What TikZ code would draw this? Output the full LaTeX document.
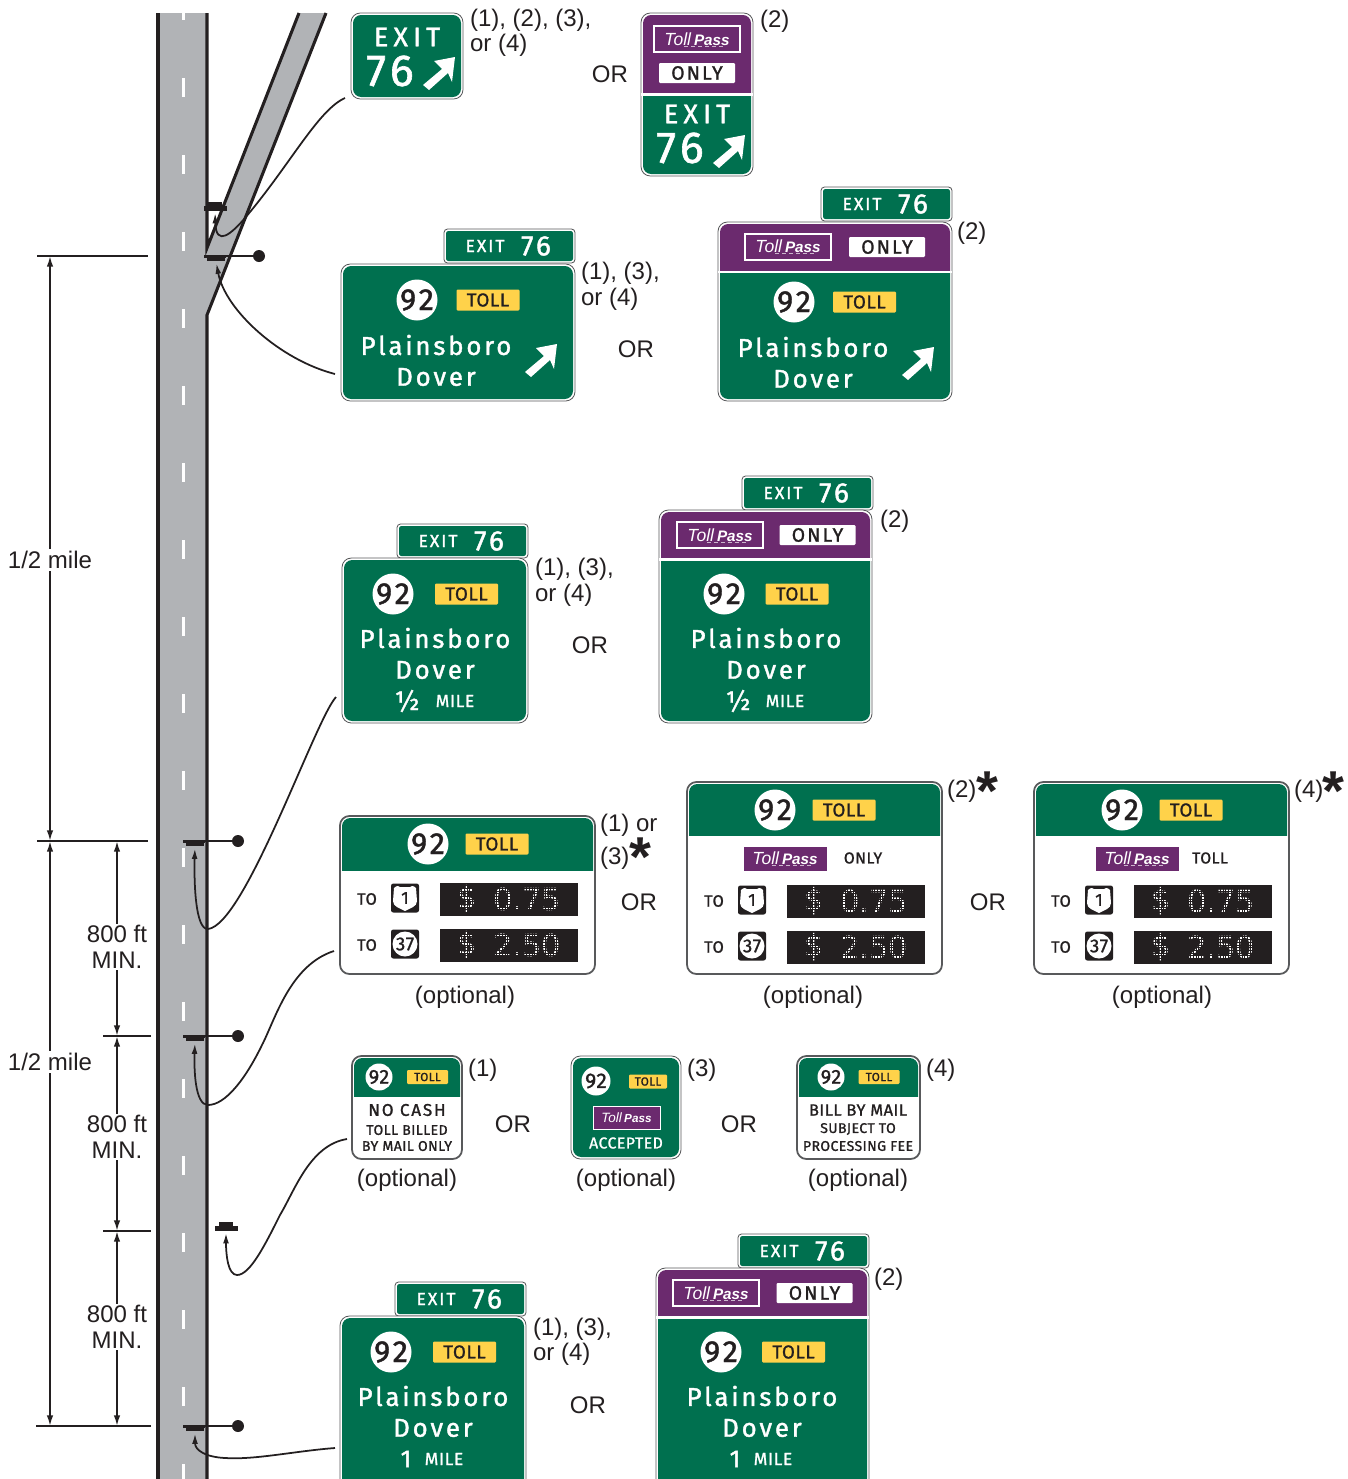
\documentclass[tikz,border=0pt]{standalone}
\usepackage{fontspec}
\usetikzlibrary{arrows.meta}
\setmainfont{Liberation Sans}
\newfontfamily\signfont[LetterSpace=11,BoldFont={Fira Sans},FakeBold=1.4]{Fira Sans}
\newfontfamily\signwide[LetterSpace=19,BoldFont={Fira Sans},FakeBold=1.4]{Fira Sans}
\newfontfamily\signtight[LetterSpace=3,BoldFont={Fira Sans},FakeBold=1.1]{Fira Sans}
\newfontfamily\dotfont{DejaVu Sans}
\newcommand{\fsz}[1]{\fontsize{#1}{#1}\selectfont}
\definecolor{signgreen}{HTML}{00704F}
\definecolor{signpurple}{HTML}{6B2A6E}
\definecolor{signyellow}{HTML}{FFD24A}
\definecolor{roadgrey}{HTML}{B1B3B6}
\definecolor{inkdark}{HTML}{231F20}
\definecolor{edgegrey}{HTML}{58595B}
\def\px{0.03cm}
\tikzset{
    signlabel/.style={inner sep=0pt,outer sep=0pt,anchor=center},
    note/.style={inner sep=0pt,outer sep=0pt,text=inkdark,font=\fontsize{20.5}{21.5}\selectfont,align=left,anchor=west,yshift=-0.7pt},
    orlabel/.style={inner sep=0pt,outer sep=0pt,text=inkdark,font=\fsz{20.5},align=center},
    bigstar/.style={inner sep=0pt,outer sep=0pt,text=inkdark,font=\bfseries\fsz{48}},
    dimlabel/.style={inner sep=1.5pt,outer sep=0pt,fill=white,text=inkdark,font=\fontsize{20.5}{22}\selectfont,align=center},
    dimline/.style={draw=inkdark,line width=1.5pt,>={Latex[length=9pt,width=5.5pt]}},
    leader/.style={draw=inkdark,line width=1.5pt,->,>={Latex[length=9pt,width=5pt]},shorten >=2pt},
    roadedge/.style={draw=inkdark,line width=2.6pt,line join=miter},
    outerlight/.style={draw=edgegrey,line width=0.7pt,fill=white,rounded corners=8pt,inner sep=0pt},
    outerdark/.style={draw=edgegrey,line width=1.5pt,fill=white,rounded corners=8pt,inner sep=0pt},
    block/.style={fill=inkdark,inner sep=0pt,outer sep=0pt},
    ball/.style={circle,fill=inkdark,inner sep=0pt,minimum size=12*\px},
    routedisc/.style={circle,fill=white,inner sep=0pt,text=inkdark},
    tollbox/.style={fill=signyellow,rounded corners=1pt,inner sep=0pt,text=inkdark},
    whitebox/.style={fill=white,rounded corners=1pt,inner sep=0pt,text=inkdark},
    logobox/.style={fill=signpurple,draw=white,inner sep=0pt,text=white},
    ratebox/.style={fill=inkdark,inner sep=0pt,outer sep=0pt,text=white}
}
\newcommand{\signpanel}[9][outerlight]{
    \node[#1,minimum width=(#5-#3)*\px,minimum height=(#6-#4)*\px] (#2) at ({(#3+#5)/2},{(#4+#6)/2}) {};
    \begin{scope}
        \clip[rounded corners=7pt] (#3+2,#4+2) rectangle (#5-2,#6-2);
        \fill[#8] (#3,#4) rectangle (#5,#7);
        \fill[#9] (#3,#7) rectangle (#5,#6);
    \end{scope}
}
\newcommand{\signtext}[6]{\node[signlabel,text=#4,font=#5] (#1) at (#2,#3) {#6};}
\newcommand{\exitarrow}[2]{
    \fill[white,shift={(#1,#2)}] (0,0) -- (-21,4) -- (-13,12) -- (-32,28) -- (-26,33) -- (-7,16) -- (-3,25) -- cycle;
}
\newcommand{\exittab}[3]{
    \node[draw=edgegrey,line width=0.7pt,fill=white,rounded corners=3pt,inner sep=0pt,minimum width=131*\px,minimum height=34*\px] (#1) at (#2+65.5,#3+17) {};
    \node[fill=signgreen,rounded corners=2pt,inner sep=0pt,minimum width=127*\px,minimum height=30*\px] (#1-face) at (#2+65.5,#3+17) {};
    \signtext{#1-word}{#2+41}{#3+17}{white}{\signfont\bfseries\fsz{15}}{EXIT}
    \signtext{#1-num}{#2+92}{#3+17}{white}{\signfont\bfseries\fsz{24}}{76}
}
\newcommand{\routehead}[4]{
    \node[routedisc,minimum size=41*\px,font=\bfseries\signfont\fsz{26}] (#1-disc) at (#2,#3) {92};
    \node[tollbox,minimum width=63*\px,minimum height=21*\px,font=\signtight\fsz{16}] (#1-toll) at (#4,#3) {TOLL};
}
\newcommand{\routesmall}[4]{
    \node[routedisc,minimum size=27*\px,font=\bfseries\signtight\fsz{17}] (#1-disc) at (#2,#3) {92};
    \node[tollbox,minimum width=41*\px,minimum height=14*\px,font=\signtight\fsz{10}] (#1-toll) at (#4,#3) {TOLL};
}
\newcommand{\placenames}[3]{
    \signtext{#1-a}{#2}{#3}{white}{\signfont\bfseries\fsz{22}}{Plainsboro}
    \signtext{#1-b}{#2}{#3+32}{white}{\signfont\bfseries\fsz{22}}{Dover}
}
\newcommand{\passlogo}[6]{
    \node[logobox,line width=#6,minimum width=#4*\px,minimum height=#5*\px,font=\fsz{13}] (#1) at (#2,#3) {{\fsz{15}\textit{Toll}}\,\textit{\textbf{Pass}}};
    \draw[white!65!signpurple,line width=0.4pt,dashed] (#2-13,#3+7) -- (#2+27,#3+7);
}
\newcommand{\onlybox}[3]{
    \node[whitebox,minimum width=76*\px,minimum height=20*\px,font=\signfont\bfseries\fsz{16.5}] (#1) at (#2,#3) {ONLY};
}
\newcommand{\usshield}[4]{
    \node[fill=inkdark,rounded corners=2pt,inner sep=0pt,minimum width=28*\px,minimum height=29*\px] (#1) at (#2,#3) {};
    \fill[white,shift={(#2,#3)}] (-11,-10) .. controls (-8,-13) and (-6,-12) .. (-5,-11) -- (5,-11) .. controls (6,-12) and (8,-13) .. (11,-10) -- (12,3) .. controls (12,9) and (5,10) .. (0,13) .. controls (-5,10) and (-12,9) .. (-12,3) -- cycle;
    \node[signlabel,text=inkdark,font=\signtight\fsz{15}] (#1-num) at (#2,#3) {#4};
}
\newcommand{\discshield}[4]{
    \node[fill=inkdark,rounded corners=2pt,inner sep=0pt,minimum width=28*\px,minimum height=29*\px] (#1) at (#2,#3) {};
    \node[circle,fill=white,inner sep=0pt,minimum size=25*\px,text=inkdark,font=\bfseries\signtight\fsz{16}] (#1-num) at (#2,#3) {#4};
}
\newcommand{\raterow}[4]{
    \signtext{#1-to}{#2}{#3}{inkdark}{\signtight\bfseries\fsz{14}}{TO}
    \node[ratebox,minimum width=138*\px,minimum height=33*\px] (#1-rate) at (#2+142,#3) {};
    \signtext{#1-cur}{#2+100}{#3}{white}{\dotfont\fsz{26}}{\$}
    \signtext{#1-amt}{#2+160}{#3}{white}{\dotfont\fsz{26}}{#4}
    \draw[inkdark,line width=0.65pt,step=0.081cm] (#2+73,#3-16) grid (#2+211,#3+16);
}
\newcommand{\armpost}[3]{
    \node[block,minimum width=22*\px,minimum height=3*\px] (#1) at (#2+11,#3) {};
    \node[block,minimum width=18*\px,minimum height=4*\px] (#1-block) at (#2+12,#3+3) {};
    \node[ball] (#1-ball) at (#2+55,#3) {};
    \draw[inkdark,line width=1.7pt] (#1) -- (#1-ball);
}
\newcommand{\plainpost}[3]{
    \node[block,minimum width=23*\px,minimum height=5*\px] (#1) at (#2,#3) {};
    \node[block,minimum width=14*\px,minimum height=5*\px] (#1-block) at (#2,#3-4) {};
}
\begin{document}
\begin{tikzpicture}[x=0.03cm,y=-0.03cm]
    \useasboundingbox (0,0) rectangle (1348,1479);
    \clip (0,0) rectangle (1348,1479);
    \fill[roadgrey] (158,13) rectangle (207,1479);
    \fill[roadgrey] (207,248) -- (299,13) -- (326,13) -- (207,315) -- cycle;
    \draw[roadedge] (158,13) -- (158,1479);
    \draw[roadedge] (207,13) -- (207,248) -- (299,13);
    \draw[roadedge] (326,13) -- (207,315) -- (207,1479);
    \foreach \k in {0,...,19}
        \fill[white] (181.5,1+77*\k) rectangle (184.5,20+77*\k);

    \plainpost{gorepost}{215}{208}
    \armpost{exitpost}{204}{256}
    \armpost{halfpost}{183}{841}
    \armpost{ratepost}{183}{1036}
    \plainpost{rulepost}{226}{1228}
    \armpost{milepost}{183}{1426}

    \foreach \n/\xa/\xb/\y in {tickA/37/148/256,tickB/37/148/841,tickC/103/151/1036,tickD/103/151/1231,tickE/36/151/1426}{
        \coordinate (\n l) at (\xa,\y);
        \coordinate (\n r) at (\xb,\y);
        \draw[dimline] (\n l) -- (\n r);
    }
    \coordinate (longA) at (50,256);
    \coordinate (longB) at (50,841);
    \coordinate (longC) at (50,1426);
    \coordinate (shortB) at (117,841);
    \coordinate (shortC) at (117,1036);
    \coordinate (shortD) at (117,1231);
    \coordinate (shortE) at (117,1426);
    \draw[dimline,<->] (longA) -- (longB);
    \draw[dimline,<->] (longB) -- (longC);
    \draw[dimline,<->] (shortB) -- (shortC);
    \draw[dimline,<->] (shortC) -- (shortD);
    \draw[dimline,<->] (shortD) -- (shortE);
    \node[dimlabel] (halfA) at (50,560) {1/2 mile};
    \node[dimlabel] (halfB) at (50,1062) {1/2 mile};
    \node[dimlabel] (gapA) at (117,947) {800 ft\\MIN.};
    \node[dimlabel] (gapB) at (117,1137) {800 ft\\MIN.};
    \node[dimlabel] (gapC) at (117,1327) {800 ft\\MIN.};

    \coordinate (leadA) at (345,98);
    \coordinate (leadB) at (335,374);
    \coordinate (leadC) at (336,697);
    \coordinate (leadD) at (334,951);
    \coordinate (leadE) at (347,1139);
    \coordinate (leadF) at (335,1448);
    \draw[leader] (leadA) .. controls (318,110) and (290,165) .. (245,218) .. controls (232,233) and (216,248) .. (gorepost.south);
    \draw[leader] (leadB) .. controls (280,360) and (225,310) .. (exitpost-block.south);
    \draw[leader] (leadC) .. controls (315,720) and (245,925) .. (208,929) .. controls (195,930) and (194,880) .. (halfpost-block.south);
    \draw[leader] (leadD) .. controls (290,965) and (275,1020) .. (262,1045) .. controls (245,1080) and (225,1105) .. (208,1105) .. controls (195,1105) and (194,1070) .. (ratepost-block.south);
    \draw[leader] (leadE) .. controls (310,1145) and (295,1190) .. (280,1215) .. controls (265,1245) and (250,1275) .. (237,1275) .. controls (228,1275) and (226,1255) .. (rulepost.south);
    \draw[leader] (leadF) .. controls (295,1451) and (255,1460) .. (225,1458) .. controls (205,1457) and (195,1450) .. (milepost-block.south);

    \signpanel{firstexit}{351}{13}{463}{99}{50}{signgreen}{signgreen}
    \signtext{firstexit-word}{407}{37}{white}{\signwide\bfseries\fsz{23}}{EXIT}
    \signtext{firstexit-num}{390}{71}{white}{\bfseries\signfont\fsz{38}}{76}
    \exitarrow{455}{57}
    \node[note] (noteA) at (470,32) {(1), (2), (3),\\or (4)};
    \node[orlabel] (orA) at (610,74) {OR};

    \signpanel{passexit}{641}{13}{753}{176}{94}{signpurple}{signgreen}
    \fill[white] (641,93) rectangle (753,95.5);
    \passlogo{passexit-logo}{697}{39}{86}{26}{1.7pt}
    \onlybox{passexit-only}{697}{73}
    \signtext{passexit-word}{697}{114}{white}{\signwide\bfseries\fsz{23}}{EXIT}
    \signtext{passexit-num}{680}{148}{white}{\bfseries\signfont\fsz{38}}{76}
    \exitarrow{745}{135}
    \node[note] (noteB) at (760,20) {(2)};

    \exittab{exittabA}{444}{229}
    \signpanel{guideA}{341}{264}{575}{401}{300}{signgreen}{signgreen}
    \routehead{guideA}{417}{300}{488}
    \placenames{guideA}{436}{345}
    \exitarrow{557}{344}
    \node[note] (noteC) at (581,285.5) {(1), (3),\\or (4)};
    \node[orlabel] (orB) at (636,349) {OR};

    \exittab{exittabB}{821}{187}
    \signpanel{guideB}{718}{222}{952}{401}{271}{signpurple}{signgreen}
    \fill[white] (718,270.5) rectangle (952,273);
    \passlogo{guideB-logo}{788}{246.5}{86}{26}{1.7pt}
    \onlybox{guideB-only}{887}{247}
    \routehead{guideB}{794}{302}{864.5}
    \placenames{guideB}{813}{347}
    \exitarrow{934}{347}
    \node[note] (noteD) at (957,232) {(2)};

    \exittab{exittabC}{397}{524}
    \signpanel{adviceA}{342}{558}{528}{723}{600}{signgreen}{signgreen}
    \routehead{adviceA}{393}{594}{466.5}
    \placenames{adviceA}{435}{638}
    \signtext{adviceA-frac}{407}{701}{white}{\signtight\fsz{23}}{½}
    \signtext{adviceA-mile}{455}{701}{white}{\signtight\bfseries\fsz{15}}{MILE}
    \node[note] (noteE) at (535,581.5) {(1), (3),\\or (4)};
    \node[orlabel] (orC) at (590,645) {OR};

    \exittab{exittabD}{742}{476}
    \signpanel{adviceB}{659}{510}{872}{723}{558}{signpurple}{signgreen}
    \fill[white] (659,558) rectangle (872,560.5);
    \passlogo{adviceB-logo}{720}{535}{86}{26}{1.7pt}
    \onlybox{adviceB-only}{817.5}{535}
    \routehead{adviceB}{724}{594}{797}
    \placenames{adviceB}{766}{638}
    \signtext{adviceB-frac}{738}{701}{white}{\signtight\fsz{23}}{½}
    \signtext{adviceB-mile}{785}{701}{white}{\signtight\bfseries\fsz{15}}{MILE}
    \node[note] (noteF) at (880,520) {(2)};

    \signpanel[outerdark]{rateA}{340}{816}{595}{974}{871}{signgreen}{white}
    \routehead{rateA}{428}{844}{497}
    \raterow{rateA-one}{367}{899}{0.75}
    \usshield{rateA-oneshield}{405}{898}{1}
    \raterow{rateA-two}{367}{945}{2.50}
    \discshield{rateA-twoshield}{405}{944}{37}
    \node[note] (noteG) at (600,841) {(1) or\\[6pt](3)};
    \node[bigstar] (starA) at (640.5,857) {*};
    \node[orlabel] (orD) at (639,902) {OR};
    \node[orlabel] (optA) at (465,997) {(optional)};

    \signpanel[outerdark]{rateB}{687}{782}{942}{974}{836}{signgreen}{white}
    \routehead{rateB}{775}{810}{844}
    \passlogo{rateB-logo}{785}{858.5}{84}{25}{0.8pt}
    \signtext{rateB-only}{863}{858}{inkdark}{\signtight\bfseries\fsz{13.5}}{ONLY}
    \raterow{rateB-one}{714}{901}{0.75}
    \usshield{rateB-oneshield}{752}{900}{1}
    \raterow{rateB-two}{714}{947}{2.50}
    \discshield{rateB-twoshield}{752}{946}{37}
    \node[note] (noteH) at (947,790) {(2)};
    \node[bigstar] (starB) at (987,791) {*};
    \node[orlabel] (orE) at (988,902) {OR};
    \node[orlabel] (optB) at (813,997) {(optional)};

    \signpanel[outerdark]{rateC}{1034}{782}{1289}{974}{836}{signgreen}{white}
    \routehead{rateC}{1122}{810}{1191}
    \passlogo{rateC-logo}{1137}{858.5}{84}{25}{0.8pt}
    \signtext{rateC-only}{1210}{858}{inkdark}{\signtight\bfseries\fsz{13.5}}{TOLL}
    \raterow{rateC-one}{1061}{901}{0.75}
    \usshield{rateC-oneshield}{1099}{900}{1}
    \raterow{rateC-two}{1061}{947}{2.50}
    \discshield{rateC-twoshield}{1099}{946}{37}
    \node[note] (noteJ) at (1294,790) {(4)};
    \node[bigstar] (starC) at (1333,791) {*};
    \node[orlabel] (optC) at (1162,997) {(optional)};

    \signpanel[outerdark]{ruleA}{352}{1056}{462}{1159}{1097}{signgreen}{white}
    \routesmall{ruleA}{379}{1077}{427.5}
    \signtext{ruleA-a}{407}{1110}{inkdark}{\signfont\bfseries\fsz{14.5}}{NO CASH}
    \signtext{ruleA-b}{407}{1130}{inkdark}{\signtight\bfseries\fsz{12}}{TOLL BILLED}
    \signtext{ruleA-c}{407}{1146}{inkdark}{\signtight\bfseries\fsz{12}}{BY MAIL ONLY}
    \node[note] (noteK) at (468,1069) {(1)};
    \node[orlabel] (orF) at (513,1124) {OR};
    \node[orlabel] (optD) at (407,1180) {(optional)};

    \signpanel{ruleB}{571}{1056}{681}{1159}{1100}{signgreen}{signgreen}
    \node[routedisc,minimum size=29*\px,font=\bfseries\signtight\fsz{18}] (ruleB-disc) at (596,1081) {92};
    \node[tollbox,minimum width=38*\px,minimum height=14*\px,font=\signtight\fsz{10}] (ruleB-toll) at (648,1081.5) {TOLL};
    \node[logobox,line width=0.8pt,minimum width=67*\px,minimum height=23*\px,font=\fsz{10}] (ruleB-logo) at (626.5,1117.5) {{\fsz{11.5}\textit{Toll}}\,\textit{\textbf{Pass}}};
    \signtext{ruleB-word}{626}{1143}{white}{\signtight\bfseries\fsz{13.5}}{ACCEPTED}
    \node[note] (noteL) at (687,1069) {(3)};
    \node[orlabel] (orG) at (739,1124) {OR};
    \node[orlabel] (optE) at (626,1180) {(optional)};

    \signpanel[outerdark]{ruleC}{797}{1056}{920}{1159}{1097}{signgreen}{white}
    \routesmall{ruleC}{831}{1077}{879}
    \signtext{ruleC-a}{858}{1110}{inkdark}{\signtight\bfseries\fsz{14}}{BILL BY MAIL}
    \signtext{ruleC-b}{858}{1129}{inkdark}{\signtight\bfseries\fsz{12}}{SUBJECT TO}
    \signtext{ruleC-c}{858}{1146}{inkdark}{\signtight\bfseries\fsz{12}}{PROCESSING FEE}
    \node[note] (noteM) at (926,1069) {(4)};
    \node[orlabel] (optF) at (858,1180) {(optional)};

    \exittab{exittabE}{395}{1282}
    \signpanel{farA}{340}{1316}{526}{1495}{1360}{signgreen}{signgreen}
    \routehead{farA}{391}{1352}{464.5}
    \placenames{farA}{433}{1396}
    \signtext{farA-one}{406}{1459}{white}{\signfont\bfseries\fsz{21}}{1}
    \signtext{farA-mile}{444}{1459}{white}{\signtight\bfseries\fsz{15}}{MILE}
    \node[note] (noteN) at (533,1341) {(1), (3),\\or (4)};
    \node[orlabel] (orH) at (588,1405) {OR};

    \exittab{exittabF}{738}{1234}
    \signpanel{farB}{656}{1268}{869}{1495}{1316}{signpurple}{signgreen}
    \fill[white] (656,1316) rectangle (869,1318.5);
    \passlogo{farB-logo}{716}{1293}{86}{26}{1.7pt}
    \onlybox{farB-only}{814.5}{1293}
    \routehead{farB}{721}{1352}{793.5}
    \placenames{farB}{762}{1396}
    \signtext{farB-one}{735}{1459}{white}{\signfont\bfseries\fsz{21}}{1}
    \signtext{farB-mile}{773}{1459}{white}{\signtight\bfseries\fsz{15}}{MILE}
    \node[note] (noteP) at (874,1278) {(2)};
\end{tikzpicture}
\end{document}
